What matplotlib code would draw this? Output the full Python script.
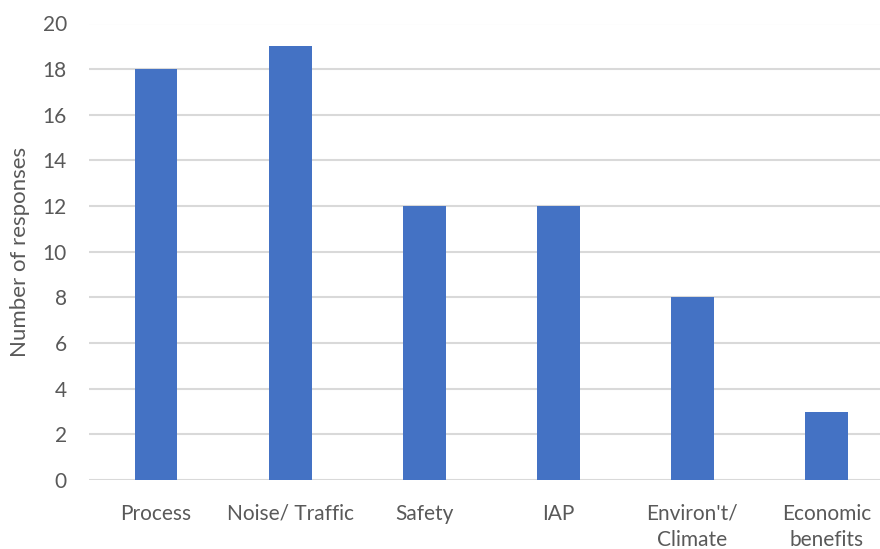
import matplotlib
matplotlib.use("Agg")
import matplotlib.pyplot as plt

categories = ["Process", "Noise/ Traffic", "Safety", "IAP", "Environ't/\nClimate", "Economic\nbenefits"]
values = [18, 19, 12, 12, 8, 3]
yticks = [0, 2, 4, 6, 8, 10, 12, 14, 16, 18, 20]

plt.rcParams['font.family'] = ['Lato', 'DejaVu Sans']
fig = plt.figure(figsize=(8.8, 5.49), dpi=100)
ax = fig.add_axes([89/880, 1-480/549, (880-89)/880, (480-23.5)/549])

x = list(range(len(categories)))
ax.bar(x, values, width=0.32, color="#4472C4", zorder=3)
ax.set_xlim(-0.5, 5.4)
ax.set_ylim(0, 20)
ax.set_yticks(yticks)
ax.set_xticks(x)
ax.set_xticklabels(categories, fontsize=15, color="#595959", linespacing=1.4, va="top")
ax.tick_params(axis='y', labelsize=15, labelcolor="#595959", length=0, pad=16)
ax.tick_params(axis='x', length=0, pad=17)
ax.grid(axis='y', color="#D9D9D9", linewidth=1.5, zorder=0)
for s in ax.spines.values():
    s.set_visible(False)
ax.set_ylabel("Number of responses", fontsize=16, color="#595959", labelpad=9)
fig.savefig("out.png", dpi=100)
